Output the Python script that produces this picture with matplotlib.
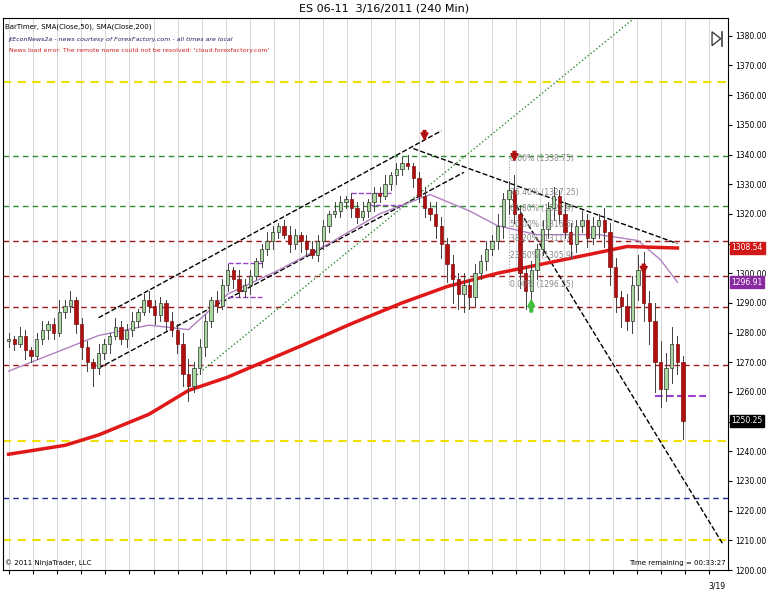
import numpy as np
import matplotlib
matplotlib.use("Agg")
import matplotlib.pyplot as plt

closes = [1278,1276,1279,1274,1272,1278,
          1281,1283,1280,1287,1289,1291,
          1283,1275,1270,1268,1273,
          1276,1279,1282,1278,1281,1284,
          1287,1291,1289,1286,1290,
          1284,1281,1276,1266,1262,
          1268,1275,1284,1291,1289,
          1296,1301,1298,1294,1296,
          1299,1304,1308,1311,1314,
          1316,1313,1310,1313,1311,
          1308,1306,1311,1316,1320,
          1321,1324,1325,1322,1319,
          1321,1324,1327,1326,1330,
          1333,1335,1337,1336,1332,
          1326,1322,1320,1316,1310,
          1303,1298,1293,1296,1292,
          1300,1304,1308,1311,1316,
          1325,1328,1320,1300,1294,
          1301,1308,1315,1322,1326,
          1320,1314,1310,1316,1318,
          1312,1316,1318,1314,1302,
          1292,1289,1284,1296,1301,
          1290,1284,1270,1261,1268,
          1276,1270,1250.25]
first_open = 1277
wick_up = [2,1,3,2,1,2,3,1,2,4,2,3,1,2,2,1,3,2,1,3,2,2,3,1,2,3,2,2,1,3,
           2,4,5,2,3,2,1,3,2,2,1,3,2,2,1,2,3,2,1,2,3,2,1,2,3,2,2,1,3,2,
           1,2,2,3,1,2,2,3,1,2,2,3,1,2,3,2,4,3,2,3,2,4,2,3,2,3,2,4,2,3,
           5,3,2,3,2,3,2,3,2,4,3,2,3,2,3,2,4,3,3,2,4,3,5,6,4,6,7,5,6,3,2]
wick_dn = [2,2,1,3,2,1,2,3,2,1,2,2,3,4,3,6,2,2,3,1,2,3,2,2,1,2,3,2,3,2,
           3,4,5,2,2,3,2,2,1,2,3,2,2,3,1,2,2,3,2,1,3,2,4,2,1,2,3,2,1,2,
           2,3,2,1,2,3,2,1,2,3,2,1,3,2,3,2,4,5,6,8,5,6,4,3,2,3,2,3,4,5,
           3,5,6,4,3,2,3,4,3,2,5,3,2,3,2,4,5,6,5,7,3,4,5,6,8,10,6,4,5,4,6]

sma200_x = [0, 10, 16, 25, 32, 39, 52, 61, 70, 78, 87, 96, 105, 110, 119]
sma200_y = [1239, 1242, 1245.5, 1252.5, 1260.5, 1265, 1275.5, 1283, 1290, 1295.5, 1300, 1303.5, 1307, 1309, 1308.5]
sma50_x = [0, 16, 25, 32, 39, 48, 57, 66, 75, 82, 87, 94, 105, 112, 116, 119]
sma50_y = [1267, 1279, 1282.5, 1281, 1293, 1301, 1310, 1320, 1326.5, 1321, 1316, 1313, 1313, 1311, 1304.5, 1297]

yellow_levels = [1364.5, 1243.5, 1210]
green_levels = [1339.5, 1322.5]
red_levels = [1311, 1299, 1288.5, 1269]
blue_levels = [1224.3]

fib_labels = ["0.00% (1338.75)", "76.40% (1327.25)", "61.80% (1321.9)", "50.00% (1316.5)",
              "38.20% (1311.7)", "23.60% (1305.9)", "0.00% (1296.25)"]
fib_prices = [1338.75, 1327.25, 1321.9, 1316.5, 1311.7, 1305.9, 1296.25]

closes = np.array(closes, float)
opens = np.concatenate([[first_open], closes[:-1]])
highs = np.maximum(opens, closes) + np.array(wick_up)
lows = np.minimum(opens, closes) - np.array(wick_dn)
n = len(closes)
idx = np.arange(n)

fig = plt.figure(figsize=(7.68, 5.99), dpi=100)
ax = fig.add_axes([3/768, 1-570/599, 725/768, 552/599])
ax.set_xlim(-1, 128)
ax.set_ylim(1200, 1386)

for g in np.arange(0, 128, 4.3):
    ax.axvline(g, color="#d0d0d0", lw=0.6, zorder=0)

for lv in yellow_levels:
    ax.axhline(lv, color="#f0e000", lw=1.5, ls=(0, (4, 3)), zorder=1)
for lv in green_levels:
    ax.axhline(lv, color="#2e8b2e", lw=1, ls=(0, (4, 3)), zorder=1)
for lv in red_levels:
    ax.axhline(lv, color="#a01818", lw=1, ls=(0, (4, 3)), zorder=1)
for lv in blue_levels:
    ax.axhline(lv, color="#1c2a8c", lw=1, ls=(0, (4, 3)), zorder=1)

ax.plot([16, 77], [1285, 1348], color="black", ls="--", lw=1, zorder=2)
ax.plot([16, 81], [1268, 1334], color="black", ls="--", lw=1, zorder=2)
ax.plot([72, 119], [1342, 1310], color="black", ls="--", lw=1, zorder=2)
ax.plot([89, 127], [1327, 1209], color="black", ls="--", lw=1, zorder=2)
ax.plot([33, 112], [1265, 1387], color="#2e8b2e", ls=":", lw=1, zorder=2)
ax.plot([89, 89], [1296, 1339], color="#999999", ls=":", lw=0.8, zorder=2)

ax.plot(sma50_x, sma50_y, color="#b080c0", lw=1, zorder=3)
ax.plot(sma200_x, sma200_y, color="#e01818", lw=2.5, zorder=3)

for x0, x1, y in [(39, 45, 1303.5), (39, 45, 1292), (61, 68, 1327), (64, 70, 1323), (115, 124, 1258.5)]:
    ax.plot([x0, x1], [y, y], color="#9a40d0", ls="--", lw=1.5 if x1 > 120 else 1, zorder=4)

for i in idx:
    up = closes[i] >= opens[i]
    col = "#a8d8a0" if up else "#b01010"
    ax.plot([i, i], [lows[i], highs[i]], color="#404040", lw=0.7, zorder=5)
    b0, b1 = sorted([opens[i], closes[i]])
    ax.add_patch(plt.Rectangle((i - 0.3, b0), 0.6, max(b1 - b0, 0.3), facecolor=col,
                               edgecolor="#303030" if up else "#801010", lw=0.5, zorder=6))

for lab, p in zip(fib_labels, fib_prices):
    ax.text(89.3, p, lab, fontsize=5.5, color="#888888", va="center", zorder=7)

for x, y in [(74, 1347), (90, 1340), (113, 1302)]:
    ax.annotate("", xy=(x, y - 3), xytext=(x, y + 2),
                arrowprops=dict(arrowstyle="simple", color="#b01010"), zorder=8)
ax.annotate("", xy=(93, 1292), xytext=(93, 1286),
            arrowprops=dict(arrowstyle="simple", color="#40c040"), zorder=8)

ticks = np.arange(1200, 1381, 10)
ax.yaxis.tick_right()
ax.set_yticks(ticks)
ax.set_yticklabels(["" if v in (1250, 1310) else f"{v:.2f}" for v in ticks], fontsize=5.5)
ax.set_xticks(np.arange(0, 128, 4.3))
ax.set_xticklabels([])
ax.tick_params(axis="x", length=3)
ax.tick_params(axis="y", length=3, pad=2)
ax.text(127.5, 1196, "3/19", fontsize=5.5, ha="right", va="top")

for p, t, c in [(1308.54, "1308.54", "#d01818"), (1296.91, "1296.91", "#8a2aa0"), (1250.25, "1250.25", "black")]:
    ax.text(1.005, (p - 1200) / 186, t, transform=ax.transAxes, fontsize=5.5, color="white",
            va="center", ha="left", bbox=dict(boxstyle="square,pad=0.2", fc=c, ec=c))

fig.text(0.5, 0.985, "ES 06-11  3/16/2011 (240 Min)", ha="center", va="center", fontsize=8)
ax.text(0.003, 0.99, "BarTimer, SMA(Close,50), SMA(Close,200)", transform=ax.transAxes, fontsize=5, va="top")
ax.text(0.008, 0.965, "jtEconNews2a - news courtesy of ForexFactory.com - all times are local",
        transform=ax.transAxes, fontsize=4.5, style="italic", color="#202060", va="top")
ax.text(0.008, 0.945, "News load error: The remote name could not be resolved: 'cloud.forexfactory.com'",
        transform=ax.transAxes, fontsize=4.5, color="#d02020", va="top")
ax.text(0.003, 0.008, "© 2011 NinjaTrader, LLC", transform=ax.transAxes, fontsize=5, va="bottom")
ax.text(0.997, 0.008, "Time remaining = 00:33:27", transform=ax.transAxes, fontsize=5, va="bottom", ha="right")

# skip-to-end icon drawn as shapes
ax.add_patch(plt.Polygon([[0.978, 0.975], [0.978, 0.950], [0.990, 0.9625]], closed=True,
                         transform=ax.transAxes, fill=False, ec="#404040", lw=1, zorder=9))
ax.plot([0.992, 0.992], [0.950, 0.975], transform=ax.transAxes, color="#404040", lw=1.2, zorder=9)

fig.savefig("out.png", dpi=100)
